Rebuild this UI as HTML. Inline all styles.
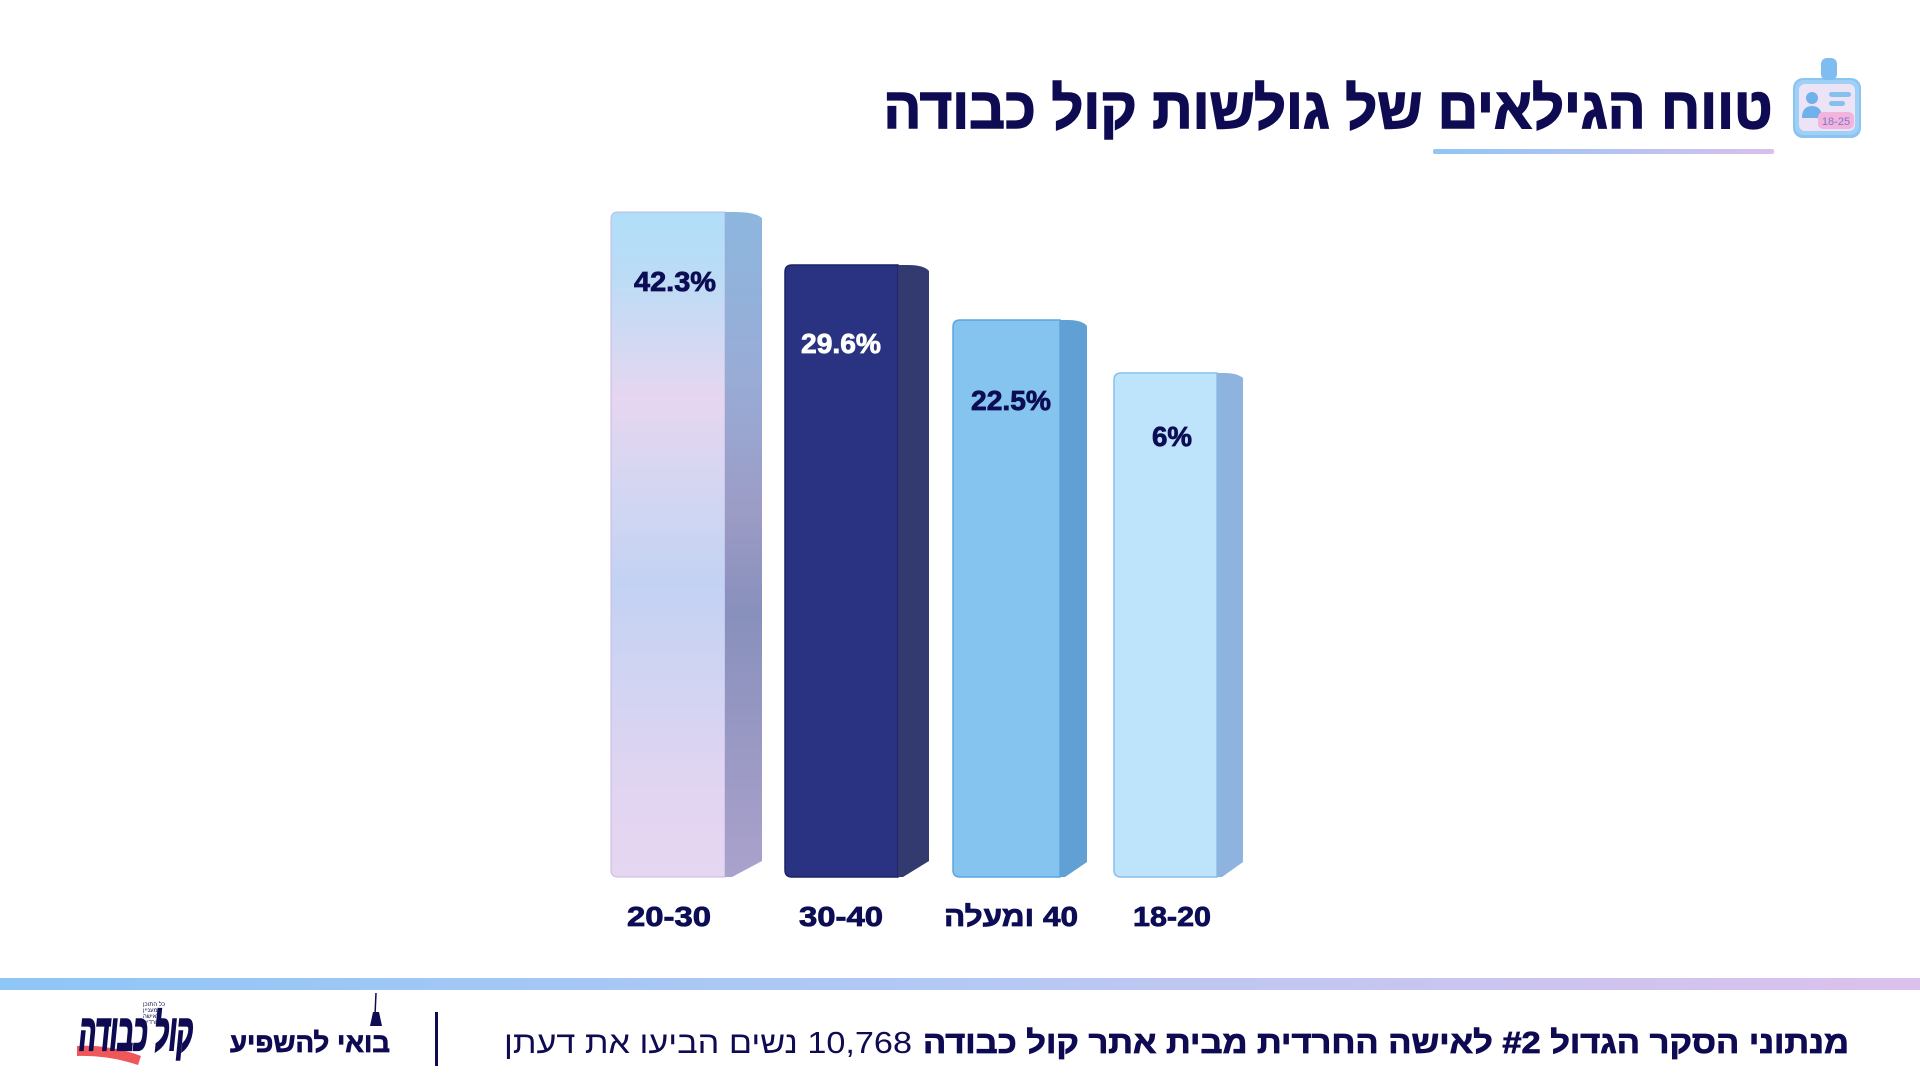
<!DOCTYPE html>
<html>
<head>
<meta charset="utf-8">
<style>
html,body{margin:0;padding:0;background:#fff;}
body{width:1920px;height:1080px;overflow:hidden;}
svg{display:block;}
.he{font-family:"Liberation Sans","DejaVu Sans",sans-serif;}
</style>
</head>
<body>
<svg width="1920" height="1080" viewBox="0 0 1920 1080" xmlns="http://www.w3.org/2000/svg">
<defs>
  <linearGradient id="g1f" x1="0" y1="212" x2="0" y2="877" gradientUnits="userSpaceOnUse">
    <stop offset="0" stop-color="#b0def8"/>
    <stop offset="0.1" stop-color="#bcdcf6"/>
    <stop offset="0.28" stop-color="#e6d6f0"/>
    <stop offset="0.45" stop-color="#cfd6f2"/>
    <stop offset="0.56" stop-color="#c3d2f3"/>
    <stop offset="0.72" stop-color="#d2d4f2"/>
    <stop offset="0.88" stop-color="#e2d5f1"/>
    <stop offset="1" stop-color="#e5d6f1"/>
  </linearGradient>
  <linearGradient id="g1s" x1="0" y1="212" x2="0" y2="877" gradientUnits="userSpaceOnUse">
    <stop offset="0" stop-color="#8db6de"/>
    <stop offset="0.25" stop-color="#98acd6"/>
    <stop offset="0.45" stop-color="#9c9cc6"/>
    <stop offset="0.6" stop-color="#8890bc"/>
    <stop offset="1" stop-color="#aaa2cc"/>
  </linearGradient>
  <linearGradient id="band" x1="0" y1="0" x2="1" y2="0">
    <stop offset="0" stop-color="#8ec6f6"/>
    <stop offset="0.5" stop-color="#b5c8f4"/>
    <stop offset="1" stop-color="#dbc2ec"/>
  </linearGradient>
  <linearGradient id="ul" x1="0" y1="0" x2="1" y2="0">
    <stop offset="0" stop-color="#8ec6f6"/>
    <stop offset="1" stop-color="#d8c0ec"/>
  </linearGradient>
</defs>

<!-- Title -->
<text class="he" x="1328" y="128" text-anchor="middle" font-size="58" font-weight="700" fill="#0e0b52" stroke="#0e0b52" stroke-width="1.6" textLength="889" lengthAdjust="spacingAndGlyphs" style="direction:rtl;unicode-bidi:embed">טווח הגילאים של גולשות קול כבודה</text>
<rect x="1433" y="149" width="341" height="5" rx="2" fill="url(#ul)"/>

<!-- Badge icon -->
<g>
  <rect x="1793" y="78" width="68" height="60" rx="10" fill="#8cc4f0"/>
  <rect x="1795" y="80" width="64" height="55" rx="9" fill="#9fd0f6"/>
  <rect x="1821" y="58" width="16" height="22" rx="6" fill="#7fbcef"/>
  <rect x="1799" y="84" width="56" height="47" rx="6" fill="#ece4f6"/>
  <circle cx="1812" cy="98" r="6" fill="#6fb1ea"/>
  <path d="M1802 118 q0 -12 10 -12 q10 0 10 12 z" fill="#6fb1ea"/>
  <rect x="1829" y="92" width="22" height="5" rx="2.5" fill="#86c0ee"/>
  <rect x="1829" y="101" width="16" height="5" rx="2.5" fill="#86c0ee"/>
  <rect x="1818" y="112" width="36" height="17" rx="5" fill="#f2b4dc"/>
  <text x="1836" y="125" text-anchor="middle" font-family="Liberation Sans, sans-serif" font-size="11" fill="#7a78c8">18-25</text>
</g>

<!-- Bar 1: 20-30 -->
<path d="M611 219 q0 -7 7 -7 h107 v665 h-107 q-7 0 -7 -7 z" fill="url(#g1f)" stroke="#c4b8e6" stroke-width="1"/>
<path d="M725 212 h10 q20 0 27 6 v643 l-30 16 h-7 z" fill="url(#g1s)"/>
<!-- Bar 2: 30-40 -->
<path d="M785 272 q0 -7 7 -7 h106 v612 h-106 q-7 0 -7 -7 z" fill="#2a3282" stroke="#1c2266" stroke-width="1.5"/>
<path d="M898 265 h10 q16 0 21 6 v590 l-26 16 h-5 z" fill="#323a70"/>
<!-- Bar 3: 40+ -->
<path d="M953 327 q0 -7 7 -7 h100 v557 h-100 q-7 0 -7 -7 z" fill="#85c4ef" stroke="#5aa6e4" stroke-width="1.5"/>
<path d="M1060 320 h8 q14 0 19 6 v536 l-22 15 h-5 z" fill="#60a0d4"/>
<!-- Bar 4: 18-20 -->
<path d="M1114 380 q0 -7 7 -7 h96 v504 h-96 q-7 0 -7 -7 z" fill="#bde4fa" stroke="#86c0ee" stroke-width="1.5"/>
<path d="M1217 373 h8 q12 0 18 5 v484 l-21 15 h-5 z" fill="#8db3de"/>

<!-- Value labels -->
<g font-family="Liberation Sans, sans-serif" font-weight="700" font-size="28" text-anchor="middle" stroke-width="0.8">
  <text x="675" y="291" fill="#0d0d55" stroke="#0d0d55" textLength="82" lengthAdjust="spacingAndGlyphs">42.3%</text>
  <text x="841" y="353" fill="#ffffff" stroke="#ffffff" textLength="80" lengthAdjust="spacingAndGlyphs">29.6%</text>
  <text x="1011" y="410" fill="#0d0d55" stroke="#0d0d55" textLength="80" lengthAdjust="spacingAndGlyphs">22.5%</text>
  <text x="1172" y="446" fill="#0d0d55" stroke="#0d0d55" textLength="40" lengthAdjust="spacingAndGlyphs">6%</text>
</g>

<!-- Category labels -->
<g font-family="Liberation Sans, sans-serif" font-weight="700" font-size="28" fill="#0d0d55" stroke="#0d0d55" stroke-width="0.8" text-anchor="middle">
  <text x="669" y="926" textLength="84" lengthAdjust="spacingAndGlyphs">20-30</text>
  <text x="841" y="926" textLength="84" lengthAdjust="spacingAndGlyphs">30-40</text>
  <text class="he" x="1011" y="926" textLength="134" lengthAdjust="spacingAndGlyphs" style="direction:rtl;unicode-bidi:embed">40 ומעלה</text>
  <text x="1172" y="926" textLength="78" lengthAdjust="spacingAndGlyphs">18-20</text>
</g>

<!-- Footer band -->
<rect x="0" y="978" width="1920" height="12" fill="url(#band)"/>

<!-- Footer text -->
<text class="he" x="1386" y="1053" text-anchor="middle" font-size="31" font-weight="700" fill="#0e0b52" stroke="#0e0b52" stroke-width="0.8" textLength="926" lengthAdjust="spacingAndGlyphs" style="direction:rtl;unicode-bidi:embed">מנתוני הסקר הגדול #2 לאישה החרדית מבית אתר קול כבודה</text>
<text class="he" x="708" y="1053" text-anchor="middle" font-size="31" font-weight="400" fill="#0e0b52" textLength="408" lengthAdjust="spacingAndGlyphs" style="direction:rtl;unicode-bidi:embed">10,768 נשים הביעו את דעתן</text>

<!-- divider -->
<rect x="435" y="1012" width="3" height="54" fill="#0e0b52"/>

<!-- בואי להשפיע -->
<text class="he" x="310" y="1052" text-anchor="middle" font-size="27" font-weight="700" fill="#0e0b52" stroke="#0e0b52" stroke-width="0.8" textLength="160" lengthAdjust="spacingAndGlyphs" style="direction:rtl;unicode-bidi:embed">בואי להשפיע</text>
<line x1="376" y1="993" x2="375" y2="1015" stroke="#0e0b52" stroke-width="1.5"/>
<path d="M373 1012 l6 0 l3 14 l-12 0 z" fill="#0e0b52"/>

<!-- Logo -->
<path d="M77 1046 q32 -2 64 10 l-3 9 q-30 -10 -61 -9 z" fill="#f0575a"/>
<text class="he" x="136" y="1050" text-anchor="middle" font-size="50" font-weight="700" font-style="italic" fill="#0e0b52" stroke="#0e0b52" stroke-width="2.5" textLength="114" lengthAdjust="spacingAndGlyphs" style="direction:rtl;unicode-bidi:embed">קול כבודה</text>
<g class="he" font-size="6" fill="#0e0b52" text-anchor="end">
  <text x="143" y="1006" style="direction:rtl">כל התוכן</text>
  <text x="143" y="1012" style="direction:rtl">המעניין</text>
  <text x="143" y="1018" style="direction:rtl">לאישה</text>
  <text x="143" y="1024" style="direction:rtl">החרדית</text>
</g>
</svg>
</body>
</html>
